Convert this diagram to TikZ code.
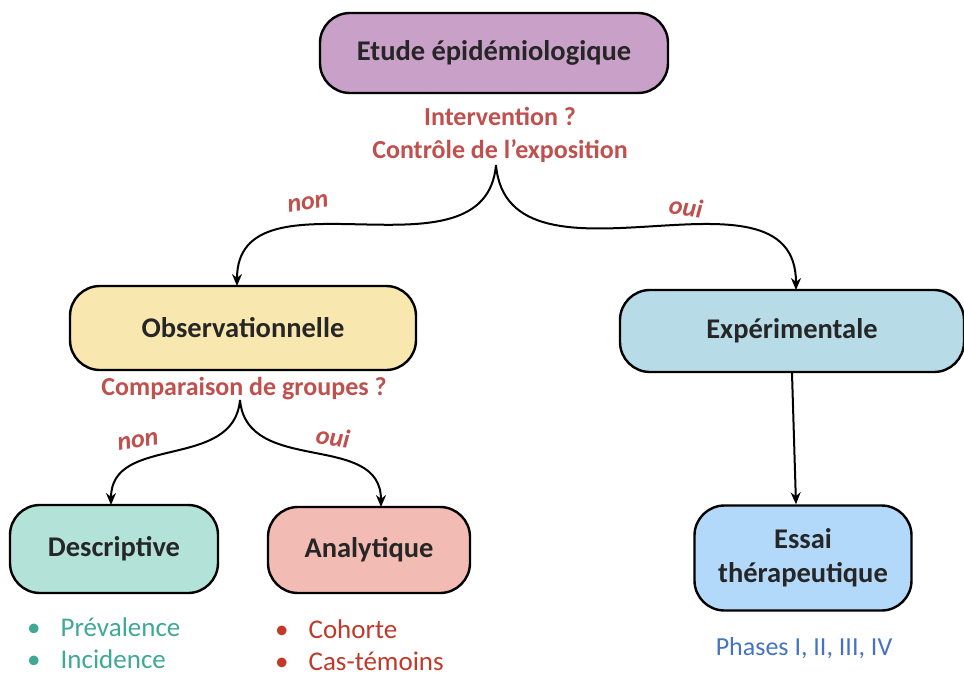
\documentclass[tikz,border=0pt]{standalone}
\usepackage{fontspec}
\setmainfont{Carlito}
\usetikzlibrary{arrows.meta,positioning}
\definecolor{violetbox}{HTML}{C8A0C8}
\definecolor{jaunebox}{HTML}{F9E7B0}
\definecolor{bleubox}{HTML}{B7DCE8}
\definecolor{vertbox}{HTML}{B2E2D8}
\definecolor{rosebox}{HTML}{F2BCB4}
\definecolor{ciel}{HTML}{B3D9FA}
\definecolor{rouille}{HTML}{C0504D}
\definecolor{sarcelle}{HTML}{3FA896}
\definecolor{brique}{HTML}{C0392B}
\definecolor{bleutxt}{HTML}{4472C4}
\tikzset{
  etape/.style={draw=black,line width=2.4pt,rounded corners=30pt,inner sep=0pt,
    font=\fontsize{28.5}{32}\selectfont\bfseries,text=black!85,align=center},
  question/.style={font=\fontsize{26}{30}\selectfont\bfseries,text=rouille},
  reponse/.style={font=\fontsize{26}{30}\selectfont\bfseries\itshape,text=rouille},
  puce/.style={font=\fontsize{27}{30}\selectfont,anchor=west,inner sep=1pt},
  fleche/.style={line width=2pt,-{Stealth[length=12pt,width=10pt]}}
}
\begin{document}
\begin{tikzpicture}[x=1pt,y=1pt]
\useasboundingbox (0,0) rectangle (964,-677);
\node[etape,fill=violetbox,minimum width=348pt,minimum height=80pt] (etude) at (494,-53) {Etude épidémiologique};
\node[question] (interv) at (500,-116) {Intervention ?};
\node[question] (controle) at (500,-151) {Contrôle de l’exposition};
\node[etape,fill=jaunebox,minimum width=346pt,minimum height=84pt] (obs) at (243,-328) {Observationnelle};
\node[etape,fill=bleubox,minimum width=344pt,minimum height=82pt] (exp) at (792,-331) {Expérimentale};
\node[question] (compar) at (244,-389) {Comparaison de groupes ?};
\node[etape,fill=vertbox,minimum width=208pt,minimum height=88pt] (desc) at (114,-549) {Descriptive};
\node[etape,fill=rosebox,minimum width=202pt,minimum height=86pt] (ana) at (369,-550) {Analytique};
\node[etape,fill=ciel,minimum width=217pt,minimum height=105pt,font=\fontsize{28.5}{34}\selectfont\bfseries] (essai) at (803,-558) {Essai\\thérapeutique};
\coordinate (b1) at (496,-165);
\coordinate (b2) at (240,-400);
\draw[fleche] (b1) to[out=-95,in=90,looseness=1.1] (237,-286);
\draw[fleche] (b1) to[out=-85,in=90,looseness=1.1] (796,-290);
\draw[fleche] (b2) to[out=-95,in=90,looseness=1.1] (111,-505);
\draw[fleche] (b2) to[out=-85,in=90,looseness=1.1] (381,-507);
\draw[fleche] (exp.south) -- ([xshift=-7pt]essai.north);
\node[reponse,rotate=8] (non1) at (308,-203) {non};
\node[reponse,rotate=-8] (oui1) at (686,-207) {oui};
\node[reponse,rotate=8] (non2) at (138,-441) {non};
\node[reponse,rotate=-8] (oui2) at (333,-437) {oui};
\node[puce,text=sarcelle] (preval) at (26,-627) {\textbullet\hspace{20pt}Prévalence};
\node[puce,text=sarcelle] (incid) at (26,-659) {\textbullet\hspace{20pt}Incidence};
\node[puce,text=brique] (cohorte) at (274,-629) {\textbullet\hspace{20pt}Cohorte};
\node[puce,text=brique] (castem) at (274,-661) {\textbullet\hspace{20pt}Cas-témoins};
\node[font=\fontsize{26}{30}\selectfont,text=bleutxt] (phases) at (804,-648) {Phases I, II, III, IV};
\end{tikzpicture}
\end{document}
